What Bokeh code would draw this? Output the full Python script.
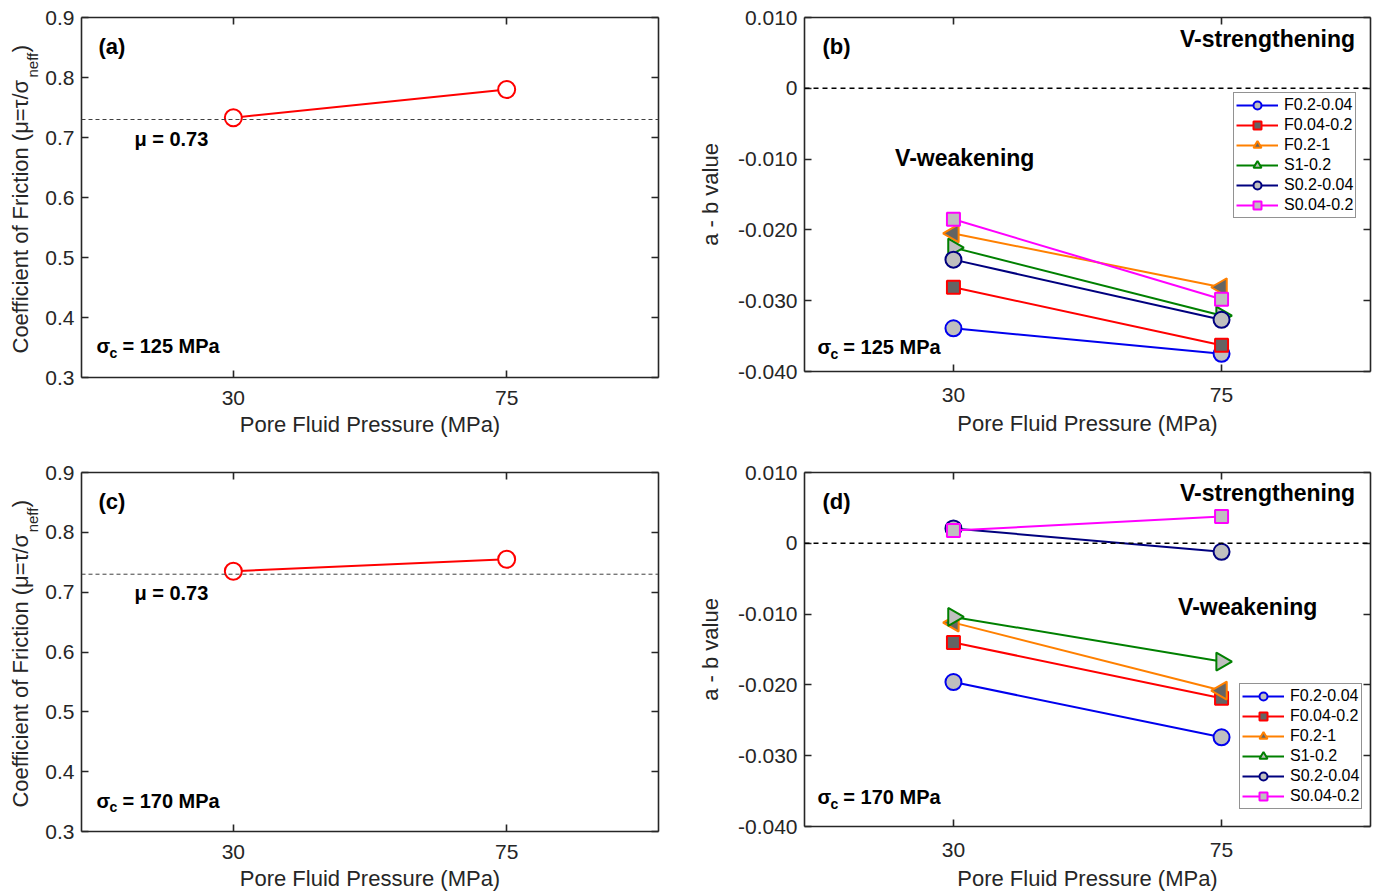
import math

from bokeh.plotting import figure
from bokeh.layouts import column, row
from bokeh.models import (Range1d, FixedTicker, LinearAxis, Label, Span,
                          Legend, LegendItem, CustomJSTickFormatter)
from bokeh.embed import file_html
from bokeh.resources import INLINE

# ---------------------------------------------------------------- data
pore_pressure = [30, 75]                      # MPa
x_ticks = [30, 75]

mu_ticks = [0.3, 0.4, 0.5, 0.6, 0.7, 0.8, 0.9]
mu_tick_labels = ["0.3", "0.4", "0.5", "0.6", "0.7", "0.8", "0.9"]
ab_ticks = [-0.04, -0.03, -0.02, -0.01, 0.0, 0.01]
ab_tick_labels = ["-0.040", "-0.030", "-0.020", "-0.010", "0", "0.010"]

mu_reference = 0.73

# friction coefficient, confining pressure 125 / 170 MPa
mu_sc125 = [0.733, 0.780]
mu_sc170 = [0.735, 0.755]

series_names = ["F0.2-0.04", "F0.04-0.2", "F0.2-1", "S1-0.2", "S0.2-0.04", "S0.04-0.2"]

# a - b values, confining pressure 125 MPa
ab125_F02_004 = [-0.0339, -0.0375]
ab125_F004_02 = [-0.0281, -0.0363]
ab125_F02_1 = [-0.0205, -0.0281]
ab125_S1_02 = [-0.0225, -0.0321]
ab125_S02_004 = [-0.0242, -0.0327]
ab125_S004_02 = [-0.0185, -0.0298]

# a - b values, confining pressure 170 MPa
ab170_F02_004 = [-0.0196, -0.0274]
ab170_F004_02 = [-0.0140, -0.0219]
ab170_F02_1 = [-0.0112, -0.0208]
ab170_S1_02 = [-0.0104, -0.0167]
ab170_S02_004 = [0.0021, -0.0012]
ab170_S004_02 = [0.0018, 0.0038]

# ---------------------------------------------------------------- styles
FONT = "Liberation Sans"
AX = "#262626"
LIGHT = "#bfbfbf"
DARK = "#646464"

series_style = [
    dict(color="#0000ee", marker="circle", fill=LIGHT, size=16, angle=0.0),
    dict(color="#ff0000", marker="square", fill=DARK, size=13, angle=0.0),
    dict(color="#ff8000", marker="triangle", fill=DARK, size=18, angle=math.pi / 2),
    dict(color="#008000", marker="triangle", fill=LIGHT, size=18, angle=-math.pi / 2),
    dict(color="#00007f", marker="circle", fill=LIGHT, size=16, angle=0.0),
    dict(color="#ff00ff", marker="square", fill=LIGHT, size=13, angle=0.0),
]

blank = CustomJSTickFormatter(code="return ''")


def make_fig(w, h, bl, br, bt, bb, yr, yticks, ylabels, ylabel=None,
             xstand=13, xlab_stand=4):
    p = figure(width=w, height=h, x_range=Range1d(5, 100), y_range=Range1d(*yr),
               output_backend="svg", toolbar_location=None,
               min_border_left=bl, min_border_right=br,
               min_border_top=bt, min_border_bottom=bb)
    p.grid.visible = False
    p.outline_line_color = None
    p.background_fill_color = "white"
    p.border_fill_color = "white"

    xa = p.xaxis[0]
    xa.ticker = FixedTicker(ticks=x_ticks)
    xa.axis_label = "Pore Fluid Pressure (MPa)"
    xa.major_label_standoff = xstand
    xa.axis_label_standoff = xlab_stand
    xa.major_label_text_line_height = 1.0
    xa.axis_label_text_line_height = 0.85

    ya = p.yaxis[0]
    ya.ticker = FixedTicker(ticks=yticks)
    ya.major_label_overrides = dict(zip(yticks, ylabels))
    ya.major_label_standoff = 7
    ya.axis_label = ylabel
    ya.axis_label_standoff = 12

    # box frame: unlabelled axes on top and right with inward ticks
    top = LinearAxis(ticker=FixedTicker(ticks=x_ticks), formatter=blank)
    right = LinearAxis(ticker=FixedTicker(ticks=yticks), formatter=blank)
    p.add_layout(top, "above")
    p.add_layout(right, "right")

    for ax in (xa, ya, top, right):
        ax.axis_line_color = AX
        ax.axis_line_width = 1.6
        ax.major_tick_line_color = AX
        ax.major_tick_line_width = 1.6
        ax.major_tick_in = 7
        ax.major_tick_out = 0
        ax.minor_tick_line_color = None
        ax.major_label_text_font = FONT
        ax.major_label_text_font_size = "21px"
        ax.major_label_text_color = AX
        ax.axis_label_text_font = FONT
        ax.axis_label_text_font_size = "22px"
        ax.axis_label_text_font_style = "normal"
        ax.axis_label_text_color = AX
    top.major_label_standoff = 0
    right.major_label_standoff = 0
    return p


def text(p, x, y, s, size="19px", style="bold", align="left", angle=0.0, color="black"):
    p.add_layout(Label(x=x, y=y, text=s, text_font=FONT, text_font_size=size,
                       text_font_style=style, text_align=align, text_baseline="middle",
                       angle=angle, text_color=color))


def ylabel_strip(h, bt, bb):
    """Narrow strip holding the rotated friction-axis title with its subscript.
    Its vertical scale is the friction axis of the neighbouring panel."""
    s = figure(width=42, height=h, x_range=Range1d(0, 42), y_range=Range1d(0.3, 0.9),
               x_axis_type=None, y_axis_type=None, output_backend="svg",
               toolbar_location=None, min_border_left=0, min_border_right=0,
               min_border_top=bt, min_border_bottom=bb)
    s.grid.visible = False
    s.outline_line_color = None
    rot = math.pi / 2
    text(s, 20, 0.340, "Coefficient of Friction (\u03bc=\u03c4/\u03c3",
         size="22px", style="normal", angle=rot, color=AX)
    text(s, 32, 0.800, "neff", size="15px", style="normal", angle=rot, color=AX)
    text(s, 20, 0.842, ")", size="22px", style="normal", angle=rot, color=AX)
    return s


def friction_panel(p, mu, tag, sigma_c):
    p.add_layout(Span(location=mu_reference, dimension="width", line_color="#404040",
                      line_width=1, line_dash="4 3"))
    p.line(pore_pressure, mu, line_color="#ff0000", line_width=2)
    p.scatter(pore_pressure, mu, marker="circle", size=17, fill_color="white",
              line_color="#ff0000", line_width=2)
    text(p, 7.79, 0.8517, tag, size="22px")
    text(p, 13.71, 0.6983, "\u03bc = 0.73", size="20px")
    text(p, 7.47, 0.3517, "\u03c3", size="20px")
    text(p, 9.6, 0.3410, "c", size="14px")
    text(p, 11.74, 0.3517, "= " + sigma_c + " MPa", size="20px")


def ab_panel(p, values, tag, sigma_c, weak_xy, strong_y, legend_loc):
    p.add_layout(Span(location=0, dimension="width", line_color="black",
                      line_width=1.4, line_dash="5 4"))
    items = []
    for name, vals, st in zip(series_names, values, series_style):
        lr = p.line(pore_pressure, vals, line_color=st["color"], line_width=2)
        sr = p.scatter(pore_pressure, vals, marker=st["marker"], size=st["size"],
                       angle=st["angle"], fill_color=st["fill"],
                       line_color=st["color"], line_width=2)
        items.append(LegendItem(label=name, renderers=[lr, sr]))
    leg = Legend(items=items, location=legend_loc,
                 border_line_color=AX, border_line_width=1,
                 background_fill_color="white", background_fill_alpha=1,
                 label_text_font=FONT, label_text_font_size="16px",
                 label_text_color="black",
                 glyph_width=42, glyph_height=20, label_height=20,
                 spacing=0, padding=2, margin=0, label_standoff=6)
    p.add_layout(leg)
    sy = -0.0366 if sigma_c == "125" else -0.0359
    text(p, 8.01, 0.0059, tag, size="22px")
    text(p, 97.4, strong_y, "V-strengthening", size="23px", align="right")
    text(p, weak_xy[0], weak_xy[1], "V-weakening", size="23px")
    text(p, 7.17, sy, "\u03c3", size="20px")
    text(p, 9.35, sy - 0.0009, "c", size="14px")
    text(p, 11.52, sy, "= " + sigma_c + " MPa", size="20px")


lab1 = ylabel_strip(447, 17, 70)
lab2 = ylabel_strip(446, 25, 62)

pa = make_fig(652, 447, 38, 36, 17, 70, (0.3, 0.9), mu_ticks, mu_tick_labels)
pb = make_fig(686, 447, 108, 10, 17, 76, (-0.04, 0.01), ab_ticks, ab_tick_labels,
              ylabel="a - b value", xstand=16, xlab_stand=6)
pc = make_fig(652, 446, 38, 36, 25, 61, (0.3, 0.9), mu_ticks, mu_tick_labels)
pd = make_fig(686, 446, 108, 10, 25, 65, (-0.04, 0.01), ab_ticks, ab_tick_labels,
              ylabel="a - b value", xstand=16, xlab_stand=6)

friction_panel(pa, mu_sc125, "(a)", "125")
friction_panel(pc, mu_sc170, "(c)", "170")

ab_panel(pb, [ab125_F02_004, ab125_F004_02, ab125_F02_1, ab125_S1_02,
              ab125_S02_004, ab125_S004_02],
         "(b)", "125", (20.2, -0.0099), 0.0069, (429, 153))
ab_panel(pd, [ab170_F02_004, ab170_F004_02, ab170_F02_1, ab170_S1_02,
              ab170_S02_004, ab170_S004_02],
         "(d)", "170", (67.7, -0.0090), 0.0071, (435, 17))

# each panel sits in its own column so that frames keep their own heights
layout = column(
    row(column(lab1), column(pa), column(pb)),
    row(column(lab2), column(pc), column(pd)),
)

with open("out.html", "w") as f:
    f.write(file_html(layout, INLINE))
